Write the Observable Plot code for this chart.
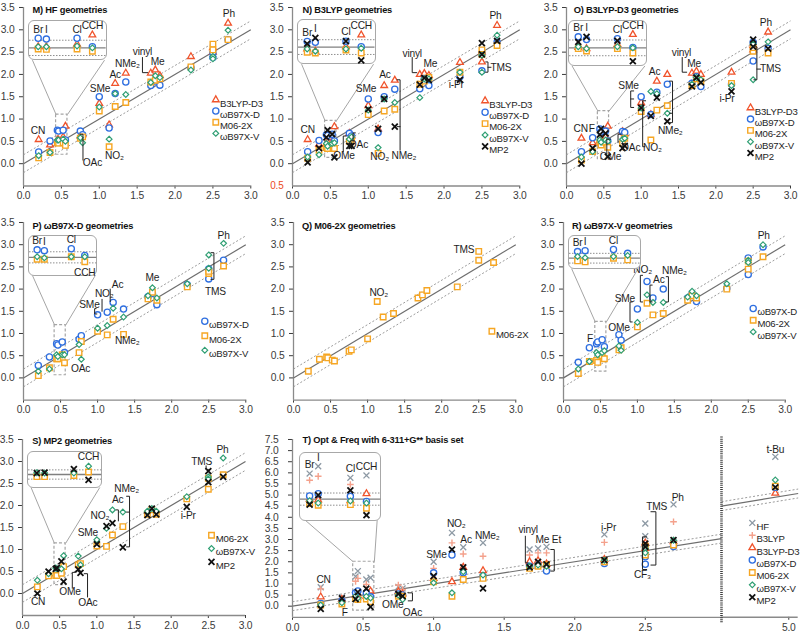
<!DOCTYPE html>
<html><head><meta charset="utf-8">
<script src="https://cdn.jsdelivr.net/npm/d3@7"></script>
<script src="https://cdn.jsdelivr.net/npm/@observablehq/plot@0.6"></script>
<style>
html,body{margin:0;padding:0;background:#fff;}
#chart{position:relative;width:803px;height:634px;overflow:hidden;background:#fff;}
#chart svg{position:absolute;}
</style></head><body><div id="chart"></div>
<script>
// ---------- data ----------
const subs = ["CN","F","Br","I","Cl","CCH","OMe","OAc","SMe","NO2","Ac","NMe2","vinyl","Me","Et","i-Pr","TMS","CF3","Ph","t-Bu"];
const subX = [0.2,0.35,0.447,0.463,0.523,0.553,0.75,0.78,1.0,1.13,1.21,1.35,1.68,1.74,1.8,2.21,2.5,2.5,2.7,4.9];
const insetSubs = ["Br","I","Cl","CCH"];
const band = [-0.2, 0.2];
const xTicks = [0,0.5,1,1.5,2,2.5,3];
const yTicks = [0,0.5,1,1.5,2,2.5,3,3.5];
const tYTicks = [0,0.5,1,1.5,2,2.5,3,3.5,4,4.5,5,5.5,6,6.5,7,7.5];
const tXTicksLeft = [0,0.5,1,1.5,2,2.5];
const tXTicksRight = [5];
const nRedTick = [-0.5];

// M) HF geometries
const M_D3  = [.54,.42,.53,.53,.60,.84,.62,.65,1.35,.87,1.80,2.03,2.03,2.10,1.97,2.40,2.60,2.50,3.15];
const M_WD  = [.26,.51,.75,.73,.75,.53,.73,.65,1.50,.80,1.57,1.83,1.75,1.85,1.76,2.15,2.48,2.38,2.78];
const M_M06 = [.13,.25,.47,.46,.47,.41,.57,.60,1.18,.38,1.28,1.37,1.83,1.87,1.90,2.17,2.68,2.55,2.78];
const M_WV  = [.18,.25,.53,.53,.55,.50,.58,.47,1.27,.55,1.57,1.55,1.82,1.97,1.93,2.10,2.40,2.35,2.99];
// N) B3LYP geometries
const N_D3  = [.54,.43,.45,.39,.51,.83,.68,.62,1.30,.78,1.75,1.87,2.00,2.02,1.98,2.27,2.28,2.50,3.10];
const N_WD  = [.27,.52,.65,.63,.66,.51,.68,.62,1.45,.70,1.50,1.67,1.68,1.90,1.75,1.95,2.08,2.47,2.72];
const N_M06 = [.12,.30,.36,.34,.42,.34,.50,.55,1.10,.23,1.18,1.22,1.78,1.85,1.93,2.05,2.55,2.45,2.65];
const N_WV  = [.15,.20,.45,.39,.45,.47,.55,.60,1.20,.36,1.45,1.37,1.48,1.90,1.90,2.05,2.05,2.43,2.88];
const N_MP2 = [.03,.35,.59,.75,.66,.14,.40,.40,1.22,.78,1.45,.83,1.77,1.92,1.87,1.88,2.70,2.45,2.75];
// O) B3LYP-D3 geometries
const O_D3  = [.57,.47,.51,.48,.59,.84,.72,.67,1.37,1.10,1.85,2.00,2.03,2.07,2.00,2.05,2.55,2.65,2.95];
const O_WD  = [.27,.58,.78,.71,.73,.51,.72,.70,1.50,1.10,1.60,1.78,1.80,1.95,1.73,1.78,2.30,2.72,2.58];
const O_M06 = [.08,.27,.48,.42,.48,.37,.45,.57,1.17,.53,1.20,1.30,1.75,1.90,1.85,1.80,2.52,2.60,2.48];
const O_WV  = [.15,.27,.53,.48,.53,.50,.55,.57,1.25,1.62,1.57,1.13,1.78,1.93,1.88,1.75,1.88,2.68,2.73];
const O_MP2 = [.00,.35,.65,.78,.68,.16,.35,.40,1.25,1.07,1.48,.95,1.73,1.93,1.82,1.62,2.78,2.62,2.58];
// P) wB97X-D geometries
const P_WD  = [.28,.47,.77,.74,.81,.57,.87,.95,1.42,1.48,1.70,1.55,1.83,1.90,1.65,2.10,2.23,2.45,2.65];
const P_M06 = [.05,.23,.43,.43,.52,.34,.57,.82,1.05,.97,1.32,.98,1.78,1.93,1.75,2.05,2.35,2.40,2.52];
const P_WV  = [.15,.20,.52,.48,.52,.52,.75,.42,1.12,1.18,1.57,1.37,1.85,2.03,1.80,2.12,2.77,2.47,3.03];
// Q) M06-2X geometries
const Q_M06 = [.15,.42,.47,.45,.40,.38,.60,.63,.88,1.72,1.37,1.45,1.80,1.87,1.97,2.05,2.85,2.65,2.60];
// R) wB97X-V geometries
const R_WD  = [.35,.68,.77,.81,.86,.70,.97,.85,1.55,2.17,1.80,2.00,1.80,1.90,1.72,2.02,2.70,2.33,2.95];
const R_M06 = [.10,.37,.39,.35,.50,.43,.63,.68,1.15,1.68,1.42,1.45,1.75,1.85,1.80,2.00,2.63,2.45,2.73];
const R_WV  = [.20,.37,.57,.52,.57,.61,.72,.62,1.25,1.87,1.70,1.70,1.82,1.95,1.85,2.12,2.65,2.60,3.00];
// S) MP2 geometries
const S_M06 = [.15,.40,.41,.41,.46,.61,.65,.68,1.08,1.07,1.33,1.52,1.80,1.90,1.80,2.15,2.62,2.37,2.70];
const S_WV  = [.30,.45,.58,.56,.56,.86,.85,.65,1.22,1.48,1.90,1.85,1.87,1.93,1.87,2.20,2.65,2.60,3.08];
const S_MP2 = [.00,.50,.56,.58,.73,.27,.55,.47,1.12,1.53,1.60,1.05,1.78,1.93,1.80,1.97,2.78,2.53,2.65];
// T) Opt & Freq with 6-311+G**
const T_HF  = [.85,.40,1.34,1.58,1.20,1.28,.87,.80,2.00,3.30,2.65,2.85,2.55,2.60,2.67,3.23,3.72,3.15,4.58,6.72];
const T_B3  = [.78,.35,1.12,1.25,.98,null,.95,.75,1.70,2.85,2.35,2.25,2.30,2.40,2.40,2.87,null,null,3.80,null];
const T_D3  = [.42,.30,.50,.47,.45,.68,.65,.55,1.25,1.10,1.75,1.60,2.00,2.05,1.90,2.10,2.85,2.60,2.90,5.08];
const T_WD  = [.12,.25,.60,.68,.59,.42,.55,.50,1.50,2.30,1.50,1.35,1.80,1.85,1.58,1.92,2.22,1.89,2.68,5.35];
const T_M06 = [.05,.10,.35,.30,.32,.20,.45,.45,1.10,.45,1.20,1.25,1.70,1.80,1.85,2.00,2.70,2.30,2.75,5.40];
const T_WV  = [.05,.15,.45,.37,.44,.37,.50,.30,1.05,.60,1.55,1.40,1.80,1.85,1.80,2.07,2.60,2.40,2.97,5.68];
const T_MP2 = [-.12,.35,.32,.63,.79,-.03,.55,.45,1.35,2.55,1.75,.80,1.75,2.00,1.88,2.07,2.82,2.67,2.97,5.35];

// annotation labels [text, x, y] and bracket polylines
const M_labels = [["CN",.19,.73],["OAc",.91,.01],["NO₂",1.2,.17],["SMe",1.01,1.68],["Ac",1.21,1.99],["NMe₂",1.37,2.24],["vinyl",1.57,2.5],["Me",1.77,2.28],["Ph",2.71,3.35]];
const M_lines = [[[.745,.66],[.785,.66],[.785,.08]],[[1.57,2.38],[1.57,2.04],[1.64,2.04]]];
const N_labels = [["CN",.2,.77],["OMe",.68,.17],["OAc",.87,.42],["NO₂",1.15,.15],["SMe",.97,1.68],["Ac",1.22,1.99],["NMe₂",1.47,.17],["vinyl",1.58,2.47],["Me",1.82,2.24],["i-Pr",2.16,1.78],["TMS",2.75,2.15],["Ph",2.68,3.31]];
const N_lines = [[[.71,.62],[.67,.62],[.67,.27]],[[.83,.69],[.8,.69],[.8,.5]],[[1.38,1.88],[1.42,1.88],[1.42,.3]],[[1.38,.83],[1.42,.83]],[[1.58,2.38],[1.58,2.04],[1.64,2.04]],[[2.55,2.28],[2.58,2.28],[2.58,2.05],[2.55,2.05]],[[2.58,2.16],[2.62,2.16]]];
const O_labels = [["CN",.19,.79],["F",.34,.79],["OMe",.59,.15],["OAc",.86,.36],["SMe",.83,1.74],["NO₂",1.15,.36],["Ac",1.18,2.06],["NMe₂",1.39,.73],["vinyl",1.54,2.49],["Me",1.71,2.25],["i-Pr",2.15,1.46],["TMS",2.73,2.12],["Ph",2.67,3.16]];
const O_lines = [[[.59,.55],[.54,.55],[.54,.22]],[[.73,.66],[.69,.66],[.69,.47]],[[.9,1.63],[.86,1.63],[.86,1.26],[.9,1.26]],[[.86,1.45],[.9,1.45]],[[1.06,1.41],[1.02,1.41],[1.02,.38],[1.05,.38]],[[1.38,1.85],[1.42,1.85],[1.42,.92],[1.38,.92]],[[1.38,1.13],[1.42,1.13]],[[1.55,2.38],[1.55,2.05],[1.61,2.05]],[[2.51,2.62],[2.55,2.62],[2.55,1.88],[2.51,1.88]],[[2.55,2.12],[2.6,2.12]]];
const P_labels = [["Ph",2.7,3.2],["Me",1.74,2.25],["Ac",1.27,2.09],["NO₂",1.09,1.89],["SMe",.89,1.64],["NMe₂",1.4,.83],["OAc",.77,.21],["TMS",2.59,1.95]];
const P_lines = [[[2.53,2.82],[2.57,2.82],[2.57,2.22],[2.53,2.22]],[[1.17,2.0],[1.17,1.72]],[[1.06,1.77],[1.06,1.5]],[[.98,1.56],[.96,1.56],[.96,1.44],[.99,1.44]]];
const Q_labels = [["NO₂",1.15,1.92],["TMS",2.3,2.88]];
const Q_lines = [];
const R_labels = [["Ph",2.71,3.2],["NO₂",1.07,2.44],["Ac",1.29,2.2],["NMe₂",1.5,2.42],["SMe",.83,1.79],["OMe",.75,1.13],["F",.36,.89]];
const R_lines = [[[1.07,2.31],[1.04,2.31],[1.04,1.71],[1.07,1.71]],[[1.2,2.09],[1.17,2.09],[1.17,1.71],[1.2,1.71]],[[1.39,2.28],[1.42,2.28],[1.42,1.71],[1.39,1.71]],[[.93,1.71],[.9,1.71],[.9,1.26],[.93,1.26]]];
const S_labels = [["Ph",2.69,3.27],["TMS",2.41,2.99],["i-Pr",2.23,1.76],["NMe₂",1.4,2.37],["Ac",1.28,2.12],["NO₂",1.04,1.76],["SMe",.88,1.38],["OMe",.64,.04],["OAc",.88,-.21],["CN",.21,-.19]];
const S_lines = [[[1.4,2.21],[1.44,2.21],[1.44,1.06],[1.4,1.06]],[[1.4,1.85],[1.44,1.85]],[[1.26,1.9],[1.29,1.9],[1.29,1.65]],[[.71,.48],[.67,.48],[.67,.12]],[[.83,.45],[.875,.45],[.875,-.08]],[[2.47,2.9],[2.47,2.82],[2.5,2.82]]];
const T_labels = [["CN",.22,1.2],["F",.37,-.3],["OMe",.71,.05],["OAc",.85,-.28],["SMe",1.02,2.32],["NO₂",1.16,3.69],["Ac",1.23,3.0],["NMe₂",1.38,3.19],["vinyl",1.67,3.45],["Me",1.77,3.0],["Et",1.87,3.0],["i-Pr",2.24,3.54],["TMS",2.58,4.47],["CF₃",2.48,1.4],["Ph",2.73,4.9]];
const T_lines = [[[.82,.6],[.85,.6],[.85,.24],[.82,.24]],[[1.65,3.15],[1.65,1.95],[1.67,1.95]],[[1.83,2.55],[1.855,2.55],[1.855,1.58],[1.83,1.58]],[[2.54,4.25],[2.575,4.25],[2.575,1.85],[2.54,1.85]],[[2.51,3.12],[2.48,3.12],[2.48,1.65],[2.51,1.65]]];
const T_right_labels = [["t-Bu",4.9,7.06]];

// ---------- styles ----------
const methodOrder = ["HF","B3LYP","B3LYP-D3","ωB97X-D","M06-2X","ωB97X-V","MP2"];
const sty = {
  "HF":       {symbol:"times",    stroke:"#8d99a4", fill:"none",  r:2.8, sw:1.3},
  "B3LYP":    {symbol:"plus",     stroke:"#f4a18c", fill:"none",  r:2.3, sw:1.4},
  "B3LYP-D3": {symbol:"triangle2",stroke:"#f0532b", fill:"white", r:3.2, sw:1.3},
  "ωB97X-D":  {symbol:"circle",   stroke:"#2f6fe0", fill:"white", r:3.1, sw:1.3},
  "M06-2X":   {symbol:"square2",  stroke:"#f6a623", fill:"white", r:3.5, sw:1.4},
  "ωB97X-V":  {symbol:"diamond2", stroke:"#2f9f73", fill:"white", r:2.6, sw:1.2},
  "MP2":      {symbol:"times",    stroke:"#111111", fill:"none",  r:2.8, sw:1.8}
};
const FONT = "font-family:'Liberation Sans',Arial,sans-serif;letter-spacing:-0.2px;";
const chart = document.getElementById("chart");
const ML = 34, MR = 12, MT = 10, MB = 24;
const LABEL_SIZE = 10.2;
const LEGEND_SIZE = 9.6;

function pointsOf(series, keep) {
  const out = [];
  for (const [m, arr] of series) arr.forEach((v, i) => {
    if (v != null && keep(i)) out.push({m, s: subs[i], x: subX[i], y: v});
  });
  return out;
}
function dotMarks(pts) {
  return methodOrder.map(m => {
    const st = sty[m];
    const d = pts.filter(p => p.m === m);
    if (!d.length) return null;
    return Plot.dot(d, {x:"x", y:"y", symbol: st.symbol, r: st.r, stroke: st.stroke, fill: st.fill, strokeWidth: st.sw});
  }).filter(Boolean);
}
function place(el, left, top) {
  el.style.position = "absolute";
  el.style.left = left + "px";
  el.style.top = top + "px";
  chart.appendChild(el);
}

function drawPanel(p) {
  const xdom = p.xdom, ydom = p.ydom;
  const pts = pointsOf(p.series, i => subX[i] >= xdom[0] && subX[i] <= xdom[1]);
  const marks = [];
  marks.push(Plot.ruleY([ydom[0]], {stroke:"#8a8a8a", strokeWidth:1.3}));
  if (p.yaxis !== false) marks.push(Plot.ruleX([xdom[0]], {stroke:"#8a8a8a", strokeWidth:1.3}));
  marks.push(Plot.link(band, {x1: () => xdom[0], x2: () => xdom[1], y1: o => xdom[0] + o, y2: o => xdom[1] + o,
    stroke:"#9b9b9b", strokeWidth:1, strokeDasharray:"2,2"}));
  marks.push(Plot.link([0], {x1: () => xdom[0], x2: () => xdom[1], y1: () => xdom[0], y2: () => xdom[1],
    stroke:"#6e6e6e", strokeWidth:1.2}));
  if (p.inset) {
    const b = p.inset.box, z = p.inset.zoom;
    marks.push(Plot.rect([z], {x1: d => d[0], x2: d => d[1], y1: d => d[2], y2: d => d[3],
      fill:"none", stroke:"#a5a5a5", strokeWidth:1.2, strokeDasharray:"3,2"}));
    marks.push(Plot.link([[b[0]+0.03, z[0]], [b[1]-0.03, z[1]]], {x1: d => d[0], y1: () => b[2], x2: d => d[1], y2: () => z[3],
      stroke:"#a5a5a5", strokeWidth:1}));
  }
  marks.push(...dotMarks(pts));
  if (p.lines && p.lines.length) {
    const rows = [];
    p.lines.forEach((pl, k) => pl.forEach(([x, y]) => rows.push({k, x, y})));
    marks.push(Plot.line(rows, {x:"x", y:"y", z:"k", stroke:"#222", strokeWidth:1}));
  }
  if (p.labels) marks.push(Plot.text(p.labels, {x: d => d[1], y: d => d[2], text: d => d[0], fontSize:LABEL_SIZE, fill:"#1e1e1e"}));
  if (p.redTick) marks.push(Plot.text(p.redTick, {x: () => xdom[0], y: d => d, text: () => "0.5", dx:-9, textAnchor:"end", fill:"#ec4a1e", fontSize:10}));
  if (p.legend) {
    const L = p.legend;
    L.items.forEach((m, i) => {
      const st = sty[m];
      const dx = L.x - p.left, dy = L.y - p.top + i * L.step;
      marks.push(Plot.dot([m], {frameAnchor:"top-left", dx, dy, symbol: st.symbol, r: st.r, stroke: st.stroke, fill: st.fill, strokeWidth: st.sw}));
      marks.push(Plot.text([m], {frameAnchor:"top-left", dx: dx + 4.2, dy, text: d => d, textAnchor:"start", fontSize:LEGEND_SIZE, fill:"#1e1e1e"}));
    });
  }
  if (p.title) marks.push(Plot.text([p.title[0]], {frameAnchor:"top-left", dx: p.title[1] - p.left, dy: p.title[2] - p.top,
    text: d => d, textAnchor:"start", fontWeight:"bold", fontSize:9.3, fill:"#111"}));

  const svg = Plot.plot({
    width: p.w + ML + MR, height: p.h + MT + MB,
    marginLeft: ML, marginRight: MR, marginTop: MT, marginBottom: MB,
    x: {domain: xdom, ticks: p.xticks, tickFormat: ".1f", tickSize: 3, tickPadding: 3, label: null},
    y: p.yaxis === false ? {domain: ydom, axis: null}
                         : {domain: ydom, ticks: p.yticks, tickFormat: ".1f", tickSize: 4, tickPadding: p.ypad || 5, label: null},
    style: "background:transparent;overflow:visible;font-size:10.3px;color:#3a3a3a;" + FONT,
    marks
  });
  place(svg, p.left - ML, p.top - MT);

  if (p.inset) {
    const I = p.inset, X = svg.scale("x"), Y = svg.scale("y");
    const x1 = X.apply(I.box[0]), x2 = X.apply(I.box[1]);
    const yt = Y.apply(I.box[3]), yb = Y.apply(I.box[2]);
    const iw = x2 - x1, ih = yb - yt;
    const ipts = pointsOf(p.series, i => insetSubs.includes(subs[i]));
    const imarks = [
      Plot.ruleY(band.map(o => 0.5 + o), {stroke:"#8f8f8f", strokeWidth:1, strokeDasharray:"1.5,1.5"}),
      Plot.ruleY([0.5], {stroke:"#808080", strokeWidth:1.3}),
      ...dotMarks(ipts)
    ];
    if (I.above.length) imarks.push(Plot.text(ipts.filter(d => I.above.includes(d.s)),
      Plot.groupX({y:"max", text:"first"}, {x:"x", y:"y", text:"s", dy:-9, fontSize:LABEL_SIZE, fill:"#1e1e1e"})));
    if (I.below.length) imarks.push(Plot.text(ipts.filter(d => I.below.includes(d.s)),
      Plot.groupX({y:"min", text:"first"}, {x:"x", y:"y", text:"s", dy:11, fontSize:LABEL_SIZE, fill:"#1e1e1e"})));
    const inset = Plot.plot({
      width: iw, height: ih, margin: 0,
      x: {domain: [0.43, 0.58], axis: null},
      y: {domain: I.ydom, axis: null},
      style: "background:white;overflow:visible;border:1.4px solid #a8a8a8;border-radius:6px;font-size:10px;color:#333;" + FONT,
      marks: imarks
    });
    place(inset, p.left - ML + x1 - 1.4, p.top - MT + yt - 1.4);
  }
  return svg;
}

const L4 = ["B3LYP-D3","ωB97X-D","M06-2X","ωB97X-V"];
const L5 = ["B3LYP-D3","ωB97X-D","M06-2X","ωB97X-V","MP2"];
const L3 = ["ωB97X-D","M06-2X","ωB97X-V"];
const all4 = ["Br","I","Cl","CCH"];

const panels = [
  {left:22.7, top:6.7, w:227.3, h:178.5, xdom:[0,3], ydom:[-0.5,3.5], xticks:xTicks, yticks:yTicks,
   title:["M) HF geometries",31.7,6],
   series:[["B3LYP-D3",M_D3],["ωB97X-D",M_WD],["M06-2X",M_M06],["ωB97X-V",M_WV]],
   labels:M_labels, lines:M_lines, legend:{x:215,y:99,step:11.2,items:L4},
   inset:{box:[0.088,1.1,2.32,3.16], zoom:[0.43,0.58,0.2,1.1], ydom:[0.21,1.19], above:all4, below:[]}},
  {left:291.7, top:6.7, w:227.3, h:178.5, xdom:[0,3], ydom:[-0.5,3.5], xticks:xTicks, yticks:yTicks, redTick:nRedTick,
   title:["N) B3LYP geometries",301.7,6],
   series:[["B3LYP-D3",N_D3],["ωB97X-D",N_WD],["M06-2X",N_M06],["ωB97X-V",N_WV],["MP2",N_MP2]],
   labels:N_labels, lines:N_lines, legend:{x:484.3,y:100,step:11.4,items:L5},
   inset:{box:[0.09,1.1,2.23,3.19], zoom:[0.43,0.58,0.13,0.96], ydom:[0.06,1.22], above:all4, below:[]}},
  {left:566, top:6.7, w:224, h:178.5, xdom:[0,3], ydom:[-0.5,3.5], xticks:xTicks, yticks:yTicks,
   title:["O) B3LYP-D3 geometries",573.3,6],
   series:[["B3LYP-D3",O_D3],["ωB97X-D",O_WD],["M06-2X",O_M06],["ωB97X-V",O_WV],["MP2",O_MP2]],
   labels:O_labels, lines:O_lines, legend:{x:750,y:107,step:11.3,items:L5},
   inset:{box:[0.045,1.08,2.19,3.16], zoom:[0.42,0.57,0.1,1.18], ydom:[0.07,1.17], above:all4, below:[]}},
  {left:22.7, top:222.3, w:222.3, h:177.6, xdom:[0,3], ydom:[-0.5,3.5], xticks:xTicks, yticks:yTicks,
   title:["P) ωB97X-D geometries",31.7,222.3],
   series:[["ωB97X-D",P_WD],["M06-2X",P_M06],["ωB97X-V",P_WV]],
   labels:P_labels, lines:P_lines, legend:{x:204,y:321,step:14.5,items:L3},
   inset:{box:[0.09,1.0,2.31,3.18], zoom:[0.42,0.57,0.06,1.19], ydom:[-0.14,1.25], above:["Br","I","Cl"], below:["CCH"]}},
  {left:293.3, top:222.3, w:222.3, h:177.6, xdom:[0,3], ydom:[-0.5,3.5], xticks:xTicks, yticks:yTicks,
   title:["Q) M06-2X geometries",301.7,222.3],
   series:[["M06-2X",Q_M06]],
   labels:Q_labels, lines:Q_lines, legend:{x:491.7,y:331,step:12,items:["M06-2X"]}},
  {left:563.3, top:222.3, w:221.7, h:177.6, xdom:[0,3], ydom:[-0.5,3.5], xticks:xTicks, yticks:yTicks,
   title:["R) ωB97X-V geometries",571.7,222.3],
   series:[["ωB97X-D",R_WD],["M06-2X",R_M06],["ωB97X-V",R_WV]],
   labels:R_labels, lines:R_lines, legend:{x:753,y:308.3,step:11.7,items:L3},
   inset:{box:[0.08,1.04,2.46,3.18], zoom:[0.43,0.58,0.14,1.26], ydom:[0.08,1.39], above:["Br","I","Cl"], below:[]}},
  {left:22, top:439.3, w:223, h:176, xdom:[0,3], ydom:[-0.5,3.5], xticks:xTicks, yticks:yTicks,
   title:["S) MP2 geometries",31.7,436.7],
   series:[["M06-2X",S_M06],["ωB97X-V",S_WV],["MP2",S_MP2]],
   labels:S_labels, lines:S_lines, legend:{x:211,y:535,step:13.3,items:["M06-2X","ωB97X-V","MP2"]},
   inset:{box:[0.085,1.07,2.41,3.2], zoom:[0.43,0.58,0.19,1.14], ydom:[-0.05,1.45], above:["CCH"], below:[]}},
];
const tSeries = [["HF",T_HF],["B3LYP",T_B3],["B3LYP-D3",T_D3],["ωB97X-D",T_WD],["M06-2X",T_M06],["ωB97X-V",T_WV],["MP2",T_MP2]];
panels.push({left:291.7, top:439.3, w:429, h:177.8, xdom:[0,3.04], ydom:[-0.5,7.5], xticks:tXTicksLeft, yticks:tYTicks, ypad:10,
   title:["T) Opt & Freq with 6-311+G** basis set",301.7,436],
   series:tSeries, labels:T_labels, lines:T_lines,
   inset:{box:[0.06,0.63,3.87,6.88], zoom:[0.43,0.58,-0.2,2.0], ydom:[-0.2,2.0], above:all4, below:[]}});

panels.forEach(drawPanel);

// right segment of T (broken axis)
const tRight = {left:720.7, top:439.3, w:76.7, h:177.8, xdom:[4.5,5.07], ydom:[-0.5,7.5], xticks:tXTicksRight, yaxis:false,
   series:tSeries, labels:T_right_labels, lines:[],
   legend:{x:751.5,y:522.7,step:12.4,items:methodOrder}};
drawPanel(tRight);
// break marker
const brk = Plot.plot({
  width: tRight.w + ML + MR, height: tRight.h + MT + MB,
  marginLeft: ML, marginRight: MR, marginTop: MT, marginBottom: MB,
  x: {domain: tRight.xdom, axis: null}, y: {domain: tRight.ydom, axis: null},
  style: "background:transparent;overflow:visible;",
  marks: [Plot.ruleX([tRight.xdom[0]], {y1: () => -0.75, y2: () => 7.65, stroke:"#3c3c3c", strokeWidth:2.6, strokeDasharray:"1,1.1"})]
});
place(brk, tRight.left - ML, tRight.top - MT);
</script></body></html>
